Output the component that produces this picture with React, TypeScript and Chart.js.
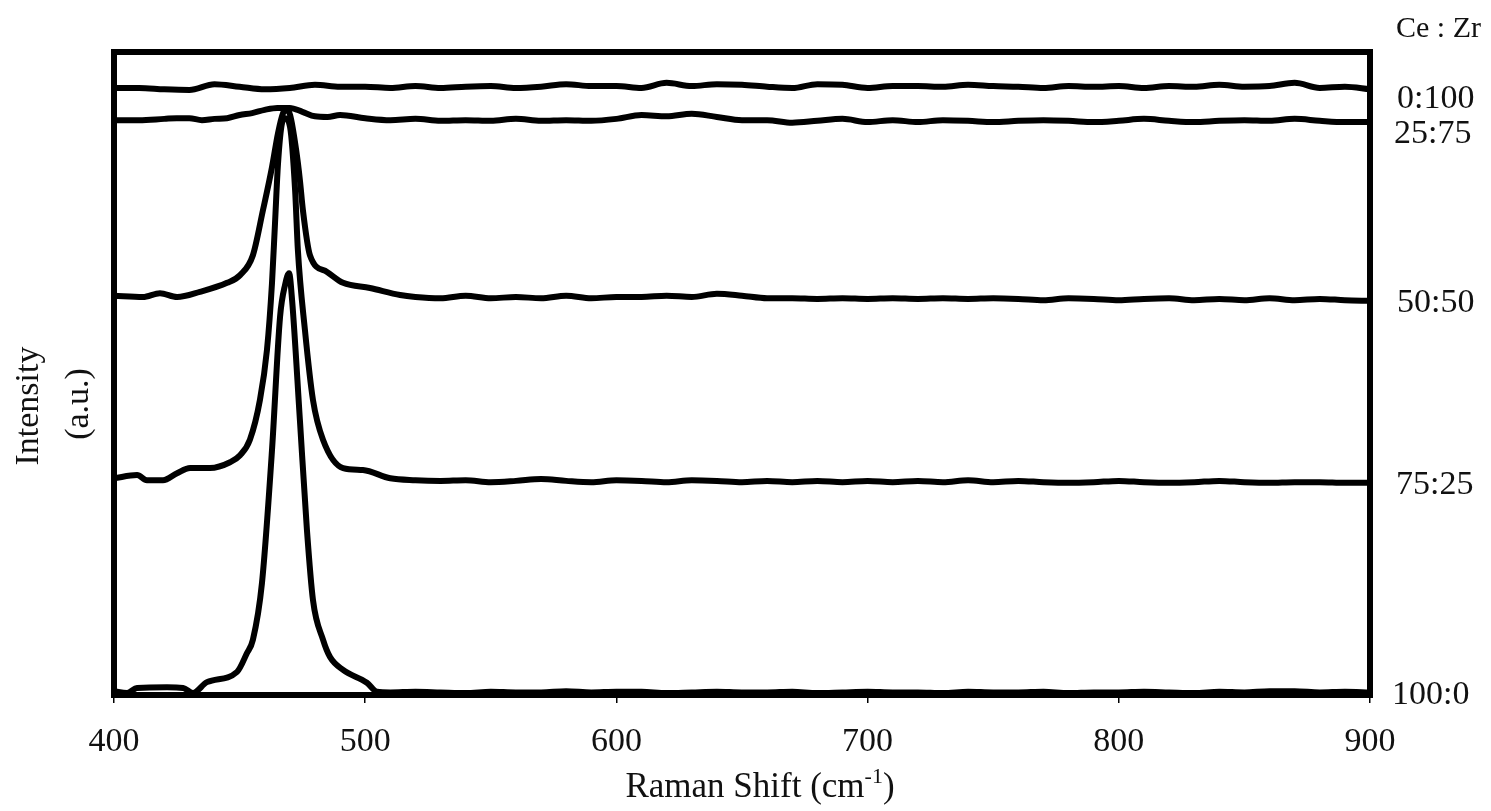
import React, { useEffect, useRef } from "react";
import { Chart, registerables } from "chart.js";

Chart.register(...registerables);

const xTickValues = [400, 500, 600, 700, 800, 900];
const seriesLabels = ["0:100", "25:75", "50:50", "75:25", "100:0"];
const legendTitle = "Ce : Zr";
const xTitle = "Raman Shift (cm";
const yTitleLines = ["Intensity", "(a.u.)"];

// [Raman shift (cm-1), intensity (a.u., offset)]
const s0_100: [number, number][] = [
  [400, 94.4], [410, 94.4], [420, 94.2], [430, 94.1], [440, 95.0], [450, 94.6], [460, 94.2], [470, 94.4],
  [480, 94.9], [490, 94.6], [500, 94.6], [510, 94.4], [520, 94.7], [530, 94.4], [540, 94.6], [550, 94.7],
  [560, 94.4], [570, 94.6], [580, 95.0], [590, 94.7], [600, 94.7], [610, 94.4], [620, 95.2], [630, 94.7],
  [640, 95.0], [650, 94.9], [660, 94.6], [670, 94.4], [680, 95.0], [690, 94.9], [700, 94.4], [710, 94.7],
  [720, 94.7], [730, 94.6], [740, 94.9], [750, 94.7], [760, 94.6], [770, 94.4], [780, 94.7], [790, 94.6],
  [800, 94.7], [810, 94.4], [820, 94.7], [830, 94.6], [840, 94.9], [850, 94.6], [860, 94.7], [870, 95.2],
  [880, 94.4], [890, 94.6], [900, 94.2],
];

const s25_75: [number, number][] = [
  [400, 89.4], [410, 89.4], [420, 89.6], [425, 89.7], [430, 89.7], [435, 89.4], [440, 89.6], [445, 89.7],
  [450, 90.2], [455, 90.5], [460, 91.0], [465, 91.3], [470, 91.3], [475, 90.7], [480, 90.0], [485, 89.9],
  [490, 90.2], [500, 89.7], [510, 89.4], [520, 89.6], [530, 89.3], [540, 89.4], [550, 89.3], [560, 89.6],
  [570, 89.3], [580, 89.4], [590, 89.3], [600, 89.6], [610, 90.2], [620, 90.0], [630, 90.4], [640, 89.9],
  [650, 89.4], [660, 89.4], [670, 89.0], [680, 89.3], [690, 89.6], [700, 89.1], [710, 89.4], [720, 89.1],
  [730, 89.4], [740, 89.3], [750, 89.1], [760, 89.3], [770, 89.4], [780, 89.3], [790, 89.1], [800, 89.3],
  [810, 89.6], [820, 89.3], [830, 89.1], [840, 89.3], [850, 89.4], [860, 89.3], [870, 89.6], [880, 89.3],
  [890, 89.1], [900, 89.1],
];

const s50_50: [number, number][] = [
  [400, 62.1], [411.5, 61.9], [418.3, 62.5], [425.1, 61.9], [434.2, 62.7], [445, 64.1], [450.2, 65.3],
  [455.3, 68.4], [459.3, 75.4], [462.9, 82.1], [465.3, 87.4], [467.3, 90.5], [468.5, 91.0], [470.1, 90.2],
  [472.5, 84.8], [474, 80.1], [475.2, 75.4], [478, 68.4], [484.8, 65.8], [491.2, 64.1], [501.9, 63.3],
  [513.9, 62.2], [520, 61.9], [530, 61.7], [540, 62.1], [550, 61.7], [560, 61.9], [570, 61.7], [580, 62.1],
  [590, 61.7], [600, 61.9], [610, 61.9], [620, 62.1], [630, 61.9], [640, 62.4], [650, 62.1], [660, 61.7],
  [670, 61.7], [680, 61.6], [690, 61.7], [700, 61.6], [710, 61.7], [720, 61.6], [730, 61.7], [740, 61.6],
  [750, 61.7], [760, 61.6], [770, 61.4], [780, 61.7], [790, 61.6], [800, 61.4], [810, 61.6], [820, 61.7],
  [830, 61.4], [840, 61.6], [850, 61.4], [860, 61.7], [870, 61.4], [880, 61.6], [890, 61.4], [900, 61.3],
];

const s75_25: [number, number][] = [
  [400, 33.7], [409.2, 34.2], [413.1, 33.4], [419.5, 33.4], [425.1, 34.5], [430.3, 35.3], [438.2, 35.3],
  [446.2, 36.2], [450.2, 37.3], [454.1, 39.7], [458.1, 45.9], [460.9, 53.7], [462.9, 64.1], [464.1, 73.4],
  [465.3, 82.7], [466.9, 89.0], [468.1, 89.7], [470.1, 88.3], [472.1, 78.5], [473.2, 69.2], [476, 56.8],
  [479.2, 45.9], [483.2, 39.7], [491.2, 35.3], [499.1, 35.0], [510, 33.7], [520, 33.4], [530, 33.3],
  [540, 33.4], [550, 33.1], [560, 33.3], [570, 33.6], [580, 33.3], [590, 33.1], [600, 33.4], [610, 33.3],
  [620, 33.1], [630, 33.4], [640, 33.3], [650, 33.1], [660, 33.3], [670, 33.1], [680, 33.3], [690, 33.1],
  [700, 33.3], [710, 33.1], [720, 33.3], [730, 33.1], [740, 33.4], [750, 33.1], [760, 33.3], [770, 33.1],
  [780, 33.0], [790, 33.1], [800, 33.3], [810, 33.1], [820, 33.0], [830, 33.1], [840, 33.3], [850, 33.1],
  [860, 33.0], [870, 33.1], [880, 33.1], [890, 33.0], [900, 33.0],
];

const s100_0: [number, number][] = [
  [400, 0.6], [405.2, 0.3], [409.2, 1.1], [421.1, 1.2], [427.5, 1.1], [431.4, 0.3], [437, 2.0], [449, 3.6],
  [452.9, 6.5], [455.3, 8.6], [458.9, 17.4], [462.9, 38.1], [466.1, 58.8], [468.1, 63.8], [469.7, 65.6],
  [470.9, 61.4], [474, 42.8], [476.8, 25.7], [479.2, 14.8], [483.2, 8.6], [486, 5.9], [491.2, 3.9],
  [500.7, 1.9], [504.7, 0.5], [510, 0.4], [520, 0.5], [530, 0.4], [540, 0.3], [550, 0.5], [560, 0.4],
  [570, 0.4], [580, 0.6], [590, 0.4], [600, 0.5], [610, 0.5], [620, 0.3], [630, 0.4], [640, 0.5],
  [650, 0.4], [660, 0.4], [670, 0.5], [680, 0.3], [690, 0.4], [700, 0.5], [710, 0.4], [720, 0.4],
  [730, 0.3], [740, 0.5], [750, 0.4], [760, 0.4], [770, 0.5], [780, 0.3], [790, 0.4], [800, 0.4],
  [810, 0.5], [820, 0.4], [830, 0.3], [840, 0.5], [850, 0.4], [860, 0.6], [870, 0.6], [880, 0.4],
  [890, 0.5], [900, 0.4],
];

const allSeries = [s0_100, s25_75, s50_50, s75_25, s100_0];
// label text positions (left x, baseline y) on the canvas
const labelPos: [number, number][] = [
  [1397, 108], [1394, 143], [1397, 312], [1396, 494], [1392, 704],
];

const FONT = "'Liberation Serif', 'Times New Roman', serif";

const decorPlugin = {
  id: "decor",
  afterDatasetsDraw(chart: any) {
    const { ctx, chartArea } = chart;
    ctx.save();
    ctx.strokeStyle = "#000";
    ctx.lineWidth = 6;
    ctx.strokeRect(chartArea.left, chartArea.top, chartArea.right - chartArea.left, chartArea.bottom - chartArea.top);
    ctx.restore();
  },
  afterDraw(chart: any) {
    const { ctx } = chart;
    ctx.save();
    ctx.fillStyle = "#111";
    ctx.textAlign = "left";
    ctx.textBaseline = "alphabetic";
    ctx.font = `30px ${FONT}`;
    ctx.fillText(legendTitle, 1396, 37);
    ctx.font = `34px ${FONT}`;
    seriesLabels.forEach((t, i) => {
      ctx.fillText(t, labelPos[i][0], labelPos[i][1]);
    });
    // x title with superscript
    ctx.font = `35px ${FONT}`;
    const w1 = ctx.measureText(xTitle).width;
    ctx.font = `22px ${FONT}`;
    const w2 = ctx.measureText("-1").width;
    ctx.font = `35px ${FONT}`;
    const w3 = ctx.measureText(")").width;
    const total = w1 + w2 + w3;
    let x = 760 - total / 2;
    const by = 797;
    ctx.fillText(xTitle, x, by);
    x += w1;
    ctx.font = `22px ${FONT}`;
    ctx.fillText("-1", x, by - 14);
    x += w2;
    ctx.font = `35px ${FONT}`;
    ctx.fillText(")", x, by);
    // y title
    ctx.font = `34px ${FONT}`;
    ctx.textAlign = "center";
    ctx.save();
    ctx.translate(38, 406);
    ctx.rotate(-Math.PI / 2);
    ctx.fillText(yTitleLines[0], 0, 0);
    ctx.restore();
    ctx.save();
    ctx.translate(88, 404);
    ctx.rotate(-Math.PI / 2);
    ctx.fillText(yTitleLines[1], 0, 0);
    ctx.restore();
    ctx.restore();
  },
};

export default function App() {
  const ref = useRef<HTMLCanvasElement | null>(null);
  useEffect(() => {
    if (!ref.current) return;
    const chart = new Chart(ref.current, {
      type: "line",
      data: {
        datasets: allSeries.map((s, i) => ({
          label: seriesLabels[i],
          data: s.map(([x, y]) => ({ x, y })),
          borderColor: "#000",
          borderWidth: 6,
          pointRadius: 0,
          fill: false,
          cubicInterpolationMode: "monotone" as const,
          borderJoinStyle: "round" as const,
          borderCapStyle: "round" as const,
        })),
      },
      options: {
        animation: false,
        responsive: false,
        devicePixelRatio: 1,
        layout: { padding: { left: 114, right: 121, top: 52, bottom: 0 } },
        plugins: { legend: { display: false }, tooltip: { enabled: false }, title: { display: false } },
        scales: {
          x: {
            type: "linear",
            min: 400,
            max: 900,
            afterFit: (s: any) => { s.height = 116; },
            afterBuildTicks: (s: any) => { s.ticks = xTickValues.map((v) => ({ value: v })); },
            border: { display: false },
            grid: { drawOnChartArea: false, drawTicks: true, tickLength: 8, color: "#000", lineWidth: 1.5 },
            ticks: {
              color: "#111",
              font: { family: FONT, size: 34 },
              padding: 19,
              maxRotation: 0,
              autoSkip: false,
              callback: (v: any) => String(v),
            },
          },
          y: { display: false, min: 0, max: 100 },
        },
      },
      plugins: [decorPlugin],
    });
    return () => chart.destroy();
  }, []);
  return (
    <div style={{ position: "fixed", left: 0, top: 0, width: 1491, height: 811, background: "#fff" }}>
      <canvas ref={ref} width={1491} height={811} style={{ display: "block" }} />
    </div>
  );
}
